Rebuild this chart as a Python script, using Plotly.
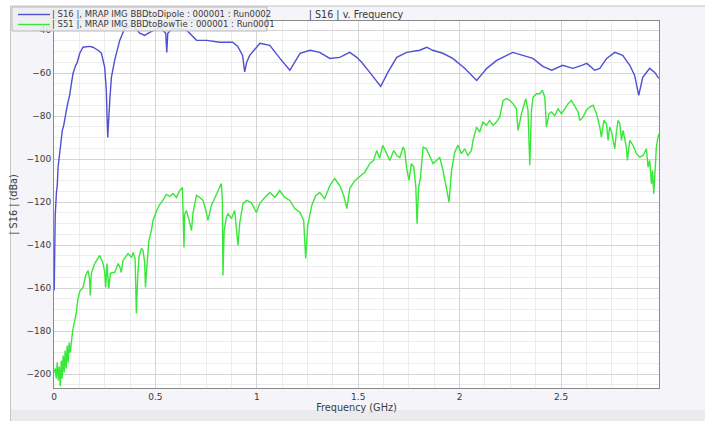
import plotly.graph_objects as go

# |S16| response (GHz, dBa)
s16_freq = [0.001, 0.003, 0.006, 0.012, 0.016, 0.020, 0.028, 0.036, 0.041, 0.048,
            0.053, 0.061, 0.069, 0.077, 0.086, 0.094, 0.107, 0.113, 0.127, 0.143,
            0.176, 0.192, 0.217, 0.234, 0.250, 0.258, 0.261, 0.265, 0.275, 0.283,
            0.299, 0.316, 0.324, 0.349, 0.388, 0.423, 0.447, 0.472, 0.522, 0.551,
            0.556, 0.561, 0.585, 0.654, 0.703, 0.753, 0.817, 0.881, 0.906, 0.930,
            0.940, 0.950, 0.965, 1.015, 1.064, 1.114, 1.163, 1.213, 1.262, 1.310,
            1.360, 1.409, 1.458, 1.493, 1.517, 1.557, 1.611, 1.646, 1.690, 1.739,
            1.803, 1.838, 1.867, 1.917, 1.966, 2.025, 2.084, 2.134, 2.183, 2.262,
            2.311, 2.361, 2.410, 2.454, 2.508, 2.558, 2.602, 2.627, 2.666, 2.691,
            2.725, 2.765, 2.804, 2.839, 2.863, 2.883, 2.903, 2.937, 2.962, 2.982]
s16_db = [-161.1, -137.8, -126.2, -115.5, -112.2, -103.9, -97.3, -89.9, -86.6, -84.3,
          -80.6, -77.3, -73.6, -70.4, -64.8, -60.1, -56.4, -55.5, -50.8, -48.0,
          -47.6, -48.0, -49.4, -50.8, -57.3, -68.0, -78.7, -89.9, -72.7, -62.0,
          -54.1, -48.0, -44.8, -39.2, -37.8, -41.5, -42.5, -41.1, -38.7, -41.5,
          -50.4, -41.5, -39.2, -40.1, -44.8, -44.8, -45.7, -45.7, -47.6, -51.8,
          -59.5, -55.0, -51.8, -46.2, -47.1, -53.2, -58.7, -50.8, -49.4, -50.4,
          -53.2, -52.7, -50.4, -52.7, -55.0, -59.7, -66.2, -59.7, -52.7, -50.4,
          -49.4, -48.0, -49.4, -50.8, -53.2, -57.8, -63.4, -57.8, -54.1, -50.4,
          -51.8, -53.2, -56.9, -58.7, -56.4, -57.8, -56.4, -55.5, -58.7, -57.8,
          -53.2, -50.4, -51.8, -56.4, -61.1, -70.4, -62.0, -57.8, -59.7, -62.5]

# |S51| response (GHz, dBa)
s51_freq = [0.001, 0.006, 0.011, 0.016, 0.021, 0.026, 0.031, 0.036, 0.040, 0.045,
            0.050, 0.055, 0.060, 0.065, 0.070, 0.075, 0.080, 0.086, 0.092, 0.102,
            0.110, 0.117, 0.127, 0.143, 0.156, 0.168, 0.175, 0.179, 0.184, 0.201,
            0.217, 0.225, 0.242, 0.250, 0.255, 0.261, 0.270, 0.278, 0.289, 0.299,
            0.316, 0.324, 0.332, 0.340, 0.354, 0.365, 0.382, 0.390, 0.400, 0.406,
            0.413, 0.419, 0.431, 0.439, 0.447, 0.451, 0.457, 0.461, 0.468, 0.480,
            0.488, 0.505, 0.521, 0.537, 0.554, 0.571, 0.587, 0.604, 0.620, 0.633,
            0.636, 0.641, 0.644, 0.653, 0.669, 0.678, 0.685, 0.702, 0.718, 0.735,
            0.751, 0.759, 0.776, 0.801, 0.825, 0.830, 0.833, 0.839, 0.850, 0.858,
            0.875, 0.891, 0.902, 0.907, 0.916, 0.932, 0.949, 0.973, 0.998, 1.014,
            1.039, 1.064, 1.089, 1.113, 1.138, 1.163, 1.187, 1.213, 1.231, 1.241,
            1.251, 1.271, 1.290, 1.310, 1.335, 1.360, 1.384, 1.409, 1.429, 1.444,
            1.458, 1.483, 1.507, 1.532, 1.557, 1.576, 1.591, 1.606, 1.621, 1.636,
            1.656, 1.675, 1.690, 1.705, 1.721, 1.729, 1.738, 1.750, 1.762, 1.774,
            1.784, 1.790, 1.798, 1.807, 1.820, 1.836, 1.852, 1.869, 1.886, 1.902,
            1.918, 1.935, 1.948, 1.960, 1.976, 1.992, 2.009, 2.025, 2.041, 2.058,
            2.066, 2.083, 2.099, 2.115, 2.132, 2.148, 2.165, 2.181, 2.198, 2.214,
            2.231, 2.247, 2.263, 2.280, 2.288, 2.305, 2.326, 2.337, 2.346, 2.354,
            2.362, 2.379, 2.395, 2.408, 2.420, 2.428, 2.441, 2.453, 2.469, 2.485,
            2.502, 2.518, 2.535, 2.551, 2.568, 2.584, 2.592, 2.608, 2.625, 2.641,
            2.658, 2.666, 2.675, 2.691, 2.699, 2.711, 2.724, 2.732, 2.740, 2.749,
            2.757, 2.765, 2.773, 2.781, 2.790, 2.798, 2.806, 2.822, 2.827, 2.839,
            2.855, 2.872, 2.888, 2.904, 2.921, 2.929, 2.937, 2.946, 2.951, 2.957,
            2.962, 2.970, 2.978, 2.983]
s51_db = [-199.2, -197.3, -202.0, -194.5, -202.9, -196.4, -205.6, -193.6, -202.0, -191.3,
          -199.2, -189.0, -197.3, -186.6, -194.5, -185.3, -190.0, -183.4, -179.7, -175.1,
          -171.4, -165.7, -161.5, -159.7, -154.1, -151.8, -155.5, -163.4, -153.1, -148.5,
          -145.7, -144.8, -148.5, -152.7, -159.7, -148.5, -160.1, -153.1, -152.7, -152.7,
          -148.5, -150.0, -152.7, -147.1, -145.3, -143.9, -145.7, -143.4, -146.2, -171.8,
          -154.1, -145.7, -141.5, -142.5, -148.0, -159.7, -150.9, -143.9, -137.8, -133.2,
          -128.5, -124.3, -121.1, -119.2, -116.4, -117.3, -116.0, -117.8, -114.6, -113.2,
          -120.7, -141.1, -125.7, -123.9, -129.5, -133.2, -125.3, -116.9, -117.8, -119.2,
          -124.8, -128.5, -121.5, -116.0, -111.3, -119.2, -154.1, -133.2, -127.1, -125.3,
          -127.6, -123.9, -133.2, -140.1, -129.5, -120.7, -119.2, -120.2, -124.8, -120.7,
          -117.8, -115.5, -117.8, -114.6, -117.8, -119.2, -123.0, -124.8, -128.5, -146.2,
          -130.9, -121.5, -117.0, -115.5, -118.4, -112.3, -109.0, -112.3, -117.0, -123.0,
          -113.7, -110.0, -108.1, -106.2, -102.1, -100.6, -96.0, -99.7, -93.6, -96.9,
          -100.6, -96.0, -98.3, -99.3, -94.4, -96.0, -103.7, -109.9, -102.1, -103.7,
          -113.0, -130.0, -113.0, -108.4, -94.4, -95.2, -98.3, -102.1, -100.6, -99.1,
          -105.3, -113.0, -120.0, -105.3, -96.7, -93.6, -97.5, -95.2, -98.3, -96.0,
          -91.3, -85.1, -87.4, -82.8, -84.3, -82.0, -84.3, -82.8, -80.5, -72.7,
          -71.9, -72.7, -74.2, -76.6, -86.7, -78.9, -71.9, -77.3, -102.9, -77.3,
          -71.2, -69.6, -69.6, -68.0, -71.2, -85.1, -78.9, -78.1, -79.7, -76.6,
          -78.9, -76.6, -74.2, -72.7, -75.8, -78.1, -82.0, -80.5, -77.3, -75.8,
          -75.0, -77.3, -78.9, -85.1, -89.8, -82.0, -83.5, -91.3, -85.1, -87.4,
          -91.3, -95.2, -87.4, -82.0, -83.5, -91.3, -86.7, -94.4, -100.6, -91.3,
          -93.6, -97.5, -99.1, -98.3, -95.2, -103.7, -100.6, -111.4, -105.3, -116.1,
          -108.4, -94.4, -89.8, -88.2]

s16_name = "| S16 |, MRAP IMG BBDtoDipole : 000001 : Run0002"
s51_name = "| S51 |, MRAP IMG BBDtoBowTie : 000001 : Run0001"

S16_COLOR = "#4f4fd2"
S51_COLOR = "#38e838"
FONT = "DejaVu Sans"
TEXT = "#3a3a3a"
W, H = 705, 421
L, R, T, B = 54, 46, 21, 33


def px_x(px):
    return (px - L) / (W - L - R)


def px_y(py):
    return (H - B - py) / (H - T - B)


fig = go.Figure()
fig.add_trace(go.Scatter(x=s16_freq, y=s16_db, mode="lines", name=s16_name,
                         line=dict(color=S16_COLOR, width=1.4)))
fig.add_trace(go.Scatter(x=s51_freq, y=s51_db, mode="lines", name=s51_name,
                         line=dict(color=S51_COLOR, width=1.4)))

axis_common = dict(
    showline=True, linecolor="#8a8a8a", linewidth=1, mirror=True,
    showgrid=True, gridcolor="#d4d4d4", gridwidth=1,
    zeroline=False, ticks="",
    tickfont=dict(family=FONT, size=9, color=TEXT),
)

fig.update_xaxes(
    range=[0, 2.983],
    tickvals=[0, 0.5, 1, 1.5, 2, 2.5], ticktext=["0", "0.5", "1", "1.5", "2", "2.5"],
    minor=dict(tick0=0, dtick=0.125, showgrid=True, gridcolor="#ececec", gridwidth=1),
    title=dict(text="Frequency (GHz)", font=dict(family=FONT, size=9.7, color=TEXT), standoff=0),
    **axis_common,
)
fig.update_yaxes(
    range=[-206.4, -35.8], tick0=-200, dtick=20,
    minor=dict(tick0=-200, dtick=5, showgrid=True, gridcolor="#ececec", gridwidth=1),
    title=dict(text="| S16 | (dBa)", font=dict(family=FONT, size=9.7, color=TEXT), standoff=7),
    **axis_common,
)

# panel background strips around the plotting area
shapes = [
    dict(type="rect", xref="paper", yref="paper", x0=px_x(0), x1=px_x(10), y0=px_y(H), y1=px_y(0),
         fillcolor="white", line=dict(width=0), layer="below"),
    dict(type="rect", xref="paper", yref="paper", x0=px_x(0), x1=px_x(W), y0=px_y(6), y1=px_y(0),
         fillcolor="white", line=dict(width=0), layer="below"),
    dict(type="rect", xref="paper", yref="paper", x0=px_x(10), x1=px_x(W), y0=px_y(H), y1=px_y(410),
         fillcolor="#ebebee", line=dict(width=0), layer="below"),
    dict(type="line", xref="paper", yref="paper", x0=px_x(10), x1=px_x(W), y0=px_y(6), y1=px_y(6),
         line=dict(color="#c4c4c4", width=1), layer="below"),
    dict(type="line", xref="paper", yref="paper", x0=px_x(10.5), x1=px_x(10.5), y0=px_y(6), y1=px_y(H),
         line=dict(color="#c4c4c4", width=1), layer="below"),
]

# compact legend box in the top-left corner
legend_rows = [(s16_name, S16_COLOR, 14.5), (s51_name, S51_COLOR, 24.5)]
shapes.append(dict(type="rect", xref="paper", yref="paper",
                   x0=px_x(12), x1=px_x(267), y0=px_y(31), y1=px_y(7),
                   fillcolor="rgba(238,238,241,0.88)", line=dict(color="#b8b8b8", width=1),
                   layer="above"))
annotations = []
for label, color, row_y in legend_rows:
    shapes.append(dict(type="line", xref="paper", yref="paper",
                       x0=px_x(18), x1=px_x(50), y0=px_y(row_y), y1=px_y(row_y),
                       line=dict(color=color, width=1.4), layer="above"))
    annotations.append(dict(text=label, xref="paper", yref="paper",
                            x=px_x(50), y=px_y(row_y), xanchor="left", yanchor="middle",
                            showarrow=False, font=dict(family=FONT, size=8.5, color=TEXT)))

fig.update_layout(
    width=W, height=H,
    margin=dict(l=L, r=R, t=T, b=B),
    paper_bgcolor="#f4f4f9",
    plot_bgcolor="white",
    shapes=shapes,
    annotations=annotations,
    showlegend=False,
    title=dict(text="| S16 | v. Frequency", x=px_x(356), xref="paper", xanchor="center",
               y=1 - 15 / H, yref="container", yanchor="middle",
               font=dict(family=FONT, size=9.6, color=TEXT)),
)

fig.write_html("out.html")
